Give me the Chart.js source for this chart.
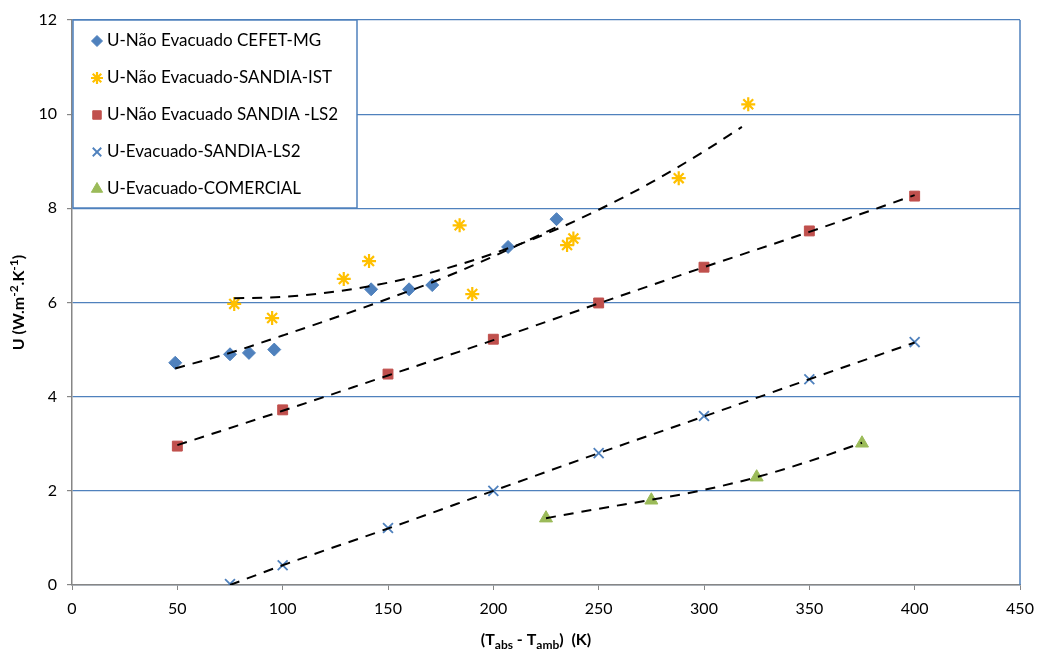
<!DOCTYPE html>
<html lang="pt">
<head>
<meta charset="UTF-8">
<title>U x (Tabs - Tamb)</title>
<script src="https://cdn.jsdelivr.net/npm/chart.js"></script>
<style>
  body { margin: 0; background: #fff; }
  #wrap { width: 1037px; height: 650px; }
</style>
</head>
<body>
<div id="wrap"><canvas id="grafico" width="1037" height="650"></canvas></div>
<script>
// pontos medidos
const cefetX = [49, 75, 84, 96, 142, 160, 171, 207, 230];
const cefetU = [4.72, 4.9, 4.93, 5.0, 6.28, 6.28, 6.37, 7.18, 7.77];
const istX = [77, 95, 129, 141, 184, 190, 235, 238, 288, 321];
const istU = [5.97, 5.67, 6.5, 6.88, 7.64, 6.18, 7.22, 7.36, 8.64, 10.21];
const ls2X = [50, 100, 150, 200, 250, 300, 350, 400];
const ls2U = [2.95, 3.72, 4.48, 5.22, 5.99, 6.75, 7.52, 8.26];
const evacX = [75, 100, 150, 200, 250, 300, 350, 400];
const evacU = [0.02, 0.42, 1.21, 2.0, 2.8, 3.59, 4.37, 5.16];
const comX = [225, 275, 325, 375];
const comU = [1.42, 1.8, 2.29, 3.01];

// linhas de tendencia
const tendCefetX = [49, 75, 100, 125, 150, 175, 200, 230];
const tendCefetU = [4.6, 4.93, 5.3, 5.68, 6.08, 6.5, 6.98, 7.6];
const tendIstX = [77, 100, 125, 150, 175, 200, 225, 250, 275, 300, 318];
const tendIstU = [6.09, 6.12, 6.23, 6.42, 6.69, 7.04, 7.46, 7.97, 8.55, 9.21, 9.73];
const tendLs2X = [50, 100, 150, 200, 250, 300, 350, 400];
const tendLs2U = [2.97, 3.7, 4.45, 5.2, 5.98, 6.75, 7.5, 8.28];
const tendEvacX = [75, 100, 150, 200, 250, 300, 350, 400];
const tendEvacU = [0.0, 0.42, 1.2, 2.0, 2.8, 3.58, 4.37, 5.15];
const tendComX = [225, 250, 275, 300, 325, 350, 375];
const tendComU = [1.42, 1.62, 1.81, 2.02, 2.29, 2.63, 3.02];

const legendas = [
  'U-Não Evacuado CEFET-MG',
  'U-Não Evacuado-SANDIA-IST',
  'U-Não Evacuado SANDIA -LS2',
  'U-Evacuado-SANDIA-LS2',
  'U-Evacuado-COMERCIAL'
];

const FONTE = 'Lato, "Liberation Sans", sans-serif';

function pts(xs, ys) {
  return xs.map((x, i) => ({ x: x, y: ys[i] }));
}

const estilos = [
  { cor: '#4f81bd', forma: 'rectRot', raio: 6.5, borda: 1 },
  { cor: '#ffc000', forma: 'star', raio: 7, borda: 2.2 },
  { cor: '#c0504d', forma: 'rect', raio: 7, borda: 1 },
  { cor: '#4f81bd', forma: 'crossRot', raio: 7, borda: 1.8 },
  { cor: '#9bbb59', forma: 'triangle', raio: 7.5, borda: 1 }
];

const series = [
  pts(cefetX, cefetU), pts(istX, istU), pts(ls2X, ls2U), pts(evacX, evacU), pts(comX, comU)
];
const tendencias = [
  pts(tendCefetX, tendCefetU), pts(tendIstX, tendIstU), pts(tendLs2X, tendLs2U),
  pts(tendEvacX, tendEvacU), pts(tendComX, tendComU)
];

const datasets = [];
series.forEach((d, i) => {
  const e = estilos[i];
  datasets.push({
    label: legendas[i],
    data: d,
    showLine: false,
    pointStyle: e.forma,
    pointRadius: e.raio,
    pointHoverRadius: e.raio,
    pointBackgroundColor: e.cor,
    pointBorderColor: e.cor,
    pointBorderWidth: e.borda,
    order: 2
  });
});
tendencias.forEach((d, i) => {
  datasets.push({
    label: 'tendencia ' + i,
    data: d,
    showLine: true,
    borderColor: '#000',
    borderWidth: 2,
    borderDash: [10, 8],
    pointRadius: 0,
    cubicInterpolationMode: 'monotone',
    fill: false,
    order: 1
  });
});

// legenda com caixa, desenhada dentro da area do grafico
const legendaCaixa = {
  id: 'legendaCaixa',
  afterDatasetsDraw(chart) {
    const ctx = chart.ctx;
    const x0 = chart.chartArea.left + 1, y0 = chart.chartArea.top;
    const w = 284, h = 188;
    ctx.save();
    ctx.fillStyle = '#fff';
    ctx.fillRect(x0, y0, w, h);
    ctx.strokeStyle = '#4f81bd';
    ctx.lineWidth = 1.5;
    ctx.strokeRect(x0, y0, w, h);
    ctx.font = '17px ' + FONTE;
    ctx.textBaseline = 'middle';
    legendas.forEach((txt, i) => {
      const e = estilos[i];
      const yy = y0 + 21 + i * 37;
      ctx.fillStyle = e.cor;
      ctx.strokeStyle = e.cor;
      ctx.lineWidth = e.borda;
      Chart.helpers.drawPoint(ctx, { pointStyle: e.forma, radius: e.raio - 1, rotation: 0, borderWidth: e.borda }, x0 + 24, yy);
      ctx.fillStyle = '#000';
      ctx.fillText(txt, x0 + 34, yy);
    });
    ctx.restore();
  }
};

// titulos dos eixos com sub/sobrescritos, borda direita
function textoRico(ctx, partes, x, y, alinhar) {
  let total = 0;
  partes.forEach(p => { ctx.font = p.f; total += ctx.measureText(p.t).width; });
  let cx = alinhar === 'center' ? x - total / 2 : x;
  partes.forEach(p => {
    ctx.font = p.f;
    ctx.fillText(p.t, cx, y + (p.dy || 0));
    cx += ctx.measureText(p.t).width;
  });
}

const titulos = {
  id: 'titulos',
  afterDraw(chart) {
    const ctx = chart.ctx;
    const a = chart.chartArea;
    ctx.save();
    ctx.strokeStyle = '#4f81bd';
    ctx.lineWidth = 1.5;
    ctx.beginPath();
    ctx.moveTo(a.right, a.top);
    ctx.lineTo(a.right, a.bottom);
    ctx.stroke();

    ctx.fillStyle = '#000';
    ctx.textBaseline = 'alphabetic';
    const b = 'bold 16px ' + FONTE;
    const s = 'bold 12px ' + FONTE;
    textoRico(ctx, [
      { t: '(T', f: b }, { t: 'abs', f: s, dy: 4 }, { t: ' - T', f: b },
      { t: 'amb', f: s, dy: 4 }, { t: ')  (K)', f: b }
    ], (a.left + a.right) / 2 - 10, 645, 'center');

    ctx.translate(24, (a.top + a.bottom) / 2);
    ctx.rotate(-Math.PI / 2);
    textoRico(ctx, [
      { t: 'U (W.m', f: b }, { t: '-2', f: s, dy: -6 }, { t: '.K', f: b },
      { t: '-1', f: s, dy: -6 }, { t: ')', f: b }
    ], 0, 0, 'center');
    ctx.restore();
  }
};

new Chart(document.getElementById('grafico'), {
  type: 'scatter',
  data: { datasets: datasets },
  options: {
    responsive: false,
    animation: false,
    layout: { padding: { top: 20, right: 17, left: 0, bottom: 0 } },
    plugins: {
      legend: { display: false },
      tooltip: { enabled: false }
    },
    scales: {
      x: {
        min: 0, max: 450,
        ticks: { stepSize: 50, color: '#000', font: { family: FONTE, size: 16 }, padding: 9, maxRotation: 0 },
        grid: { drawOnChartArea: false, drawTicks: true, tickLength: 5, tickColor: '#868686' },
        border: { color: '#868686', width: 1.5 },
        afterFit(scale) { scale.height = 65; scale.paddingRight = 0; scale.paddingLeft = 0; }
      },
      y: {
        min: 0, max: 12,
        ticks: { stepSize: 2, color: '#000', font: { family: FONTE, size: 16 }, padding: 10 },
        grid: { color: '#4f81bd', lineWidth: 1.2, tickLength: 5, tickColor: '#868686' },
        border: { color: '#868686', width: 1.5 },
        afterFit(scale) { scale.width = 72; scale.paddingTop = 0; scale.paddingBottom = 0; }
      }
    }
  },
  plugins: [legendaCaixa, titulos]
});
</script>
</body>
</html>
